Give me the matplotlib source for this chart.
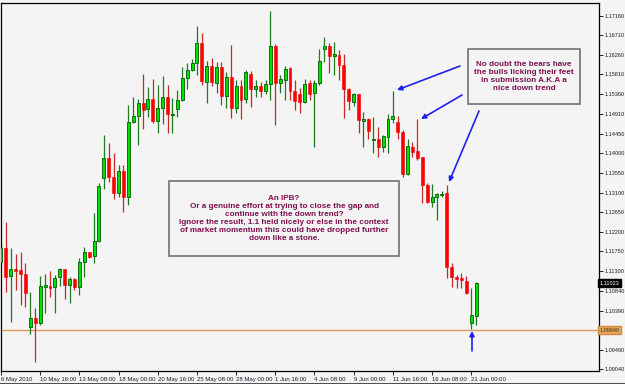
import matplotlib.pyplot as plt
import numpy as np
from matplotlib.patches import Rectangle

# OHLC (8h bars, 6 May - 21 Jun 2010)
opens = [1.11513, 1.11819, 1.11184, 1.11352, 1.11322, 1.11222, 1.10021, 1.10212, 1.10113, 1.10939,
         1.10962, 1.10924, 1.11154, 1.11352, 1.10978, 1.11115, 1.10939, 1.11498, 1.11727, 1.11643,
         1.11995, 1.13426, 1.13885, 1.13464, 1.13082, 1.13595, 1.13005, 1.14727, 1.14857, 1.15163,
         1.15010, 1.15240, 1.14750, 1.15033, 1.15286, 1.14888, 1.15010, 1.15224, 1.15729, 1.15913,
         1.16066, 1.16525, 1.15645, 1.16013, 1.15622, 1.15974, 1.15324, 1.15745, 1.15048, 1.15546,
         1.15240, 1.15821, 1.15469, 1.15546, 1.15439, 1.15592, 1.16464, 1.15622, 1.15684, 1.15951,
         1.15439, 1.15362, 1.15186, 1.15622, 1.15377, 1.15607, 1.16388, 1.16464, 1.16242, 1.16257,
         1.16028, 1.15469, 1.15186, 1.15355, 1.14750, 1.14781, 1.14306, 1.14321, 1.14153, 1.14383,
         1.14781, 1.14727, 1.14497, 1.13526, 1.14153, 1.14054, 1.13908, 1.13273, 1.12891, 1.12990,
         1.13051, 1.13082, 1.11383, 1.11169, 1.11131, 1.11077, 1.10098, 1.10266]
highs = [1.11934, 1.12431, 1.11819, 1.11689, 1.11743, 1.11475, 1.10809, 1.10442, 1.11184, 1.11230,
         1.11307, 1.11207, 1.11360, 1.11352, 1.11169, 1.11131, 1.11605, 1.11842, 1.11743, 1.12623,
         1.13327, 1.14421, 1.14245, 1.14000, 1.13732, 1.13732, 1.15110, 1.15286, 1.15240, 1.15821,
         1.15530, 1.15699, 1.15569, 1.15775, 1.15569, 1.15263, 1.15454, 1.15974, 1.16081, 1.16158,
         1.16923, 1.16755, 1.16127, 1.16196, 1.16104, 1.16104, 1.15875, 1.16487, 1.15684, 1.15684,
         1.15913, 1.15898, 1.15684, 1.15645, 1.15684, 1.17275, 1.16510, 1.15798, 1.16005, 1.15990,
         1.15684, 1.15492, 1.15699, 1.15684, 1.15684, 1.16388, 1.16678, 1.16541, 1.16564, 1.16372,
         1.16280, 1.15492, 1.15393, 1.15362, 1.14957, 1.14804, 1.14842, 1.14597, 1.14421, 1.14903,
         1.15439, 1.14857, 1.14536, 1.14321, 1.14268, 1.14781, 1.13908, 1.13327, 1.13296, 1.13097,
         1.13143, 1.13273, 1.11475, 1.11207, 1.11261, 1.11184, 1.10901, 1.11054]
lows = [1.11475, 1.10824, 1.10136, 1.10863, 1.10518, 1.10480, 1.09853, 1.09218, 1.10059, 1.10327,
        1.10710, 1.10327, 1.10955, 1.10649, 1.10572, 1.10863, 1.10748, 1.11169, 1.11590, 1.11475,
        1.11972, 1.13174, 1.13349, 1.12944, 1.13005, 1.12646, 1.12814, 1.14704, 1.14191, 1.14551,
        1.14842, 1.14704, 1.14475, 1.14673, 1.14475, 1.14475, 1.14842, 1.15210, 1.15469, 1.15898,
        1.15798, 1.15569, 1.15163, 1.15546, 1.15377, 1.15110, 1.15033, 1.14804, 1.14918, 1.14781,
        1.15148, 1.15056, 1.15286, 1.15301, 1.15362, 1.15224, 1.14651, 1.15377, 1.15224, 1.15224,
        1.14995, 1.14934, 1.15163, 1.15224, 1.14153, 1.15569, 1.16104, 1.15837, 1.15798, 1.15684,
        1.14804, 1.14995, 1.15087, 1.14459, 1.14153, 1.14321, 1.14000, 1.13924, 1.14038, 1.14015,
        1.14689, 1.14321, 1.13464, 1.13503, 1.13924, 1.13847, 1.12868, 1.12868, 1.12776, 1.12470,
        1.12990, 1.11131, 1.10924, 1.10901, 1.10901, 1.10771, 1.09960, 1.10059]
closes = [1.11819, 1.11169, 1.11337, 1.11307, 1.11230, 1.10786, 1.10212, 1.10113, 1.10955, 1.10978,
          1.10916, 1.11131, 1.11352, 1.10978, 1.11115, 1.10939, 1.11505, 1.11727, 1.11628, 1.11995,
          1.13258, 1.13885, 1.13464, 1.13082, 1.13595, 1.13005, 1.14712, 1.14857, 1.15148, 1.14995,
          1.15240, 1.14750, 1.15033, 1.15286, 1.14903, 1.14903, 1.15224, 1.15729, 1.15913, 1.16066,
          1.16525, 1.15668, 1.16013, 1.15645, 1.15974, 1.15324, 1.15745, 1.15048, 1.15546, 1.15224,
          1.15860, 1.15469, 1.15554, 1.15439, 1.15584, 1.16464, 1.15607, 1.15699, 1.15936, 1.15439,
          1.15209, 1.15186, 1.15592, 1.15362, 1.15622, 1.16127, 1.16464, 1.16234, 1.16273, 1.16028,
          1.15469, 1.15209, 1.15355, 1.14765, 1.14788, 1.14520, 1.14321, 1.14153, 1.14398, 1.14781,
          1.14857, 1.14497, 1.13526, 1.14168, 1.14038, 1.13885, 1.13273, 1.12891, 1.13005, 1.13067,
          1.13067, 1.11383, 1.11169, 1.11108, 1.11093, 1.10786, 1.10289, 1.11023]

date_labels = ["6 May 2010", "10 May 16:00", "13 May 08:00", "18 May 00:00", "20 May 16:00",
               "25 May 08:00", "28 May 00:00", "1 Jun 16:00", "4 Jun 08:00", "9 Jun 00:00",
               "11 Jun 16:00", "16 Jun 08:00", "21 Jun 00:00"]
bars_per_label = 8

price_ticks = [1.17160, 1.16710, 1.16260, 1.15810, 1.15360, 1.14910, 1.14450, 1.14000, 1.13550,
               1.13100, 1.12650, 1.12200, 1.11750, 1.11300, 1.10840, 1.10390, 1.09940, 1.09490,
               1.09040]
last_price = 1.11023
support_level = 1.09940

bg = "#f4f4f4"
fs = 4.0
fig = plt.figure(figsize=(6.25, 3.84), dpi=100, facecolor=bg)
ax = fig.add_axes([1 / 625, 13 / 384, 598 / 625, 368 / 384], facecolor=bg)

o = np.array(opens)
h = np.array(highs)
l = np.array(lows)
c = np.array(closes)
idx = np.arange(len(o))
up = c >= o

# wicks
ax.vlines(idx[up], l[up], h[up], color="#1f7a1f", lw=0.9, zorder=2)
ax.vlines(idx[~up], l[~up], h[~up], color="#c42a2a", lw=0.9, zorder=2)

# bodies
body = np.maximum(np.abs(c - o), 0.00008)
bottom = np.minimum(o, c)
ax.bar(idx[up], body[up], bottom=bottom[up], width=0.6, color="#00e000",
       edgecolor="#005a00", lw=0.6, zorder=3)
ax.bar(idx[~up], body[~up], bottom=bottom[~up], width=0.6, color="#ff0000",
       edgecolor="#ee0000", lw=0.4, zorder=3)

ax.axhline(support_level, color="#dc9a55", lw=1.0, zorder=1)

ax.set_xlim(0.04, 122.08)
ax.set_ylim(1.09004, 1.17451)

ax.set_xticks(np.arange(len(date_labels)) * bars_per_label)
ax.set_xticklabels(date_labels, ha="left", fontsize=4.3, family="Liberation Sans", color="#1a1a2a")
ax.tick_params(axis="x", length=3, width=0.6, pad=1, direction="out")

ax.yaxis.tick_right()
ax.set_yticks(price_ticks)
# the support level value is shown in its own highlighted box instead
ax.set_yticklabels(["" if p == support_level else f"{p:.5f}" for p in price_ticks], fontsize=fs,
                   family="Liberation Sans", color="#1a1a2a")
ax.tick_params(axis="y", length=3, width=0.6, pad=1, direction="out")

for s in ax.spines.values():
    s.set_color("black")
    s.set_linewidth(0.9)

# price labels on the scale
ax.text(1.001, last_price, f"{last_price:.5f}", transform=ax.get_yaxis_transform(),
        fontsize=fs, family="Liberation Sans", color="white", va="center", ha="left",
        bbox=dict(boxstyle="square,pad=0.25", fc="black", ec="black"), zorder=5, clip_on=False)
ax.text(1.001, support_level, f"{support_level:.5f}", transform=ax.get_yaxis_transform(),
        fontsize=fs, family="Liberation Sans", color="#3a2a10", va="center", ha="left",
        bbox=dict(boxstyle="square,pad=0.25", fc="#e8a860", ec="#d08a40"), zorder=5, clip_on=False)

# annotation boxes (figure pixel layout)
def note_box(x0, y0, x1, y1, text):
    rect = Rectangle((x0, 384 - y1), x1 - x0, y1 - y0, transform=None,
                     fc=bg, ec="#7c7c7c", lw=1.3, zorder=6)
    fig.patches.append(rect)
    fig.text((x0 + x1) / 2 / 625, (384 - (y0 + y1) / 2) / 384, text, ha="center", va="center",
             fontsize=5.9, fontweight="bold", family="Liberation Sans", color="#7d1050",
             linespacing=1.18, zorder=7)

note_box(169, 181, 399, 256,
         "An IPB?\nOr a genuine effort at trying to close the gap and\ncontinue with the down trend?\n"
         "Ignore the result, 1.1 held nicely or else in the context\n"
         "of market momentum this could have dropped further\ndown like a stone.")
note_box(468, 49, 580, 104,
         "No doubt the bears have\nthe bulls licking their feet\nin submission A.K.A a\nnice down trend")

arrows = [((460, 66), (397, 90)), ((462, 95), (421, 119)), ((479, 111), (449, 182)),
          ((472, 351), (472, 331))]
for tail, head in arrows:
    ax.annotate("", xy=(head[0], 384 - head[1]), xytext=(tail[0], 384 - tail[1]),
                xycoords="figure pixels", textcoords="figure pixels",
                arrowprops=dict(arrowstyle="-|>", color="#1f1ff0", lw=1.2, mutation_scale=7,
                                shrinkA=0, shrinkB=0), zorder=8)

fig.add_artist(plt.Line2D([0, 1], [0.5 / 384, 0.5 / 384], color="#303030", lw=1.2,
                          transform=fig.transFigure))

fig.savefig("out.png", dpi=100, facecolor=bg)
